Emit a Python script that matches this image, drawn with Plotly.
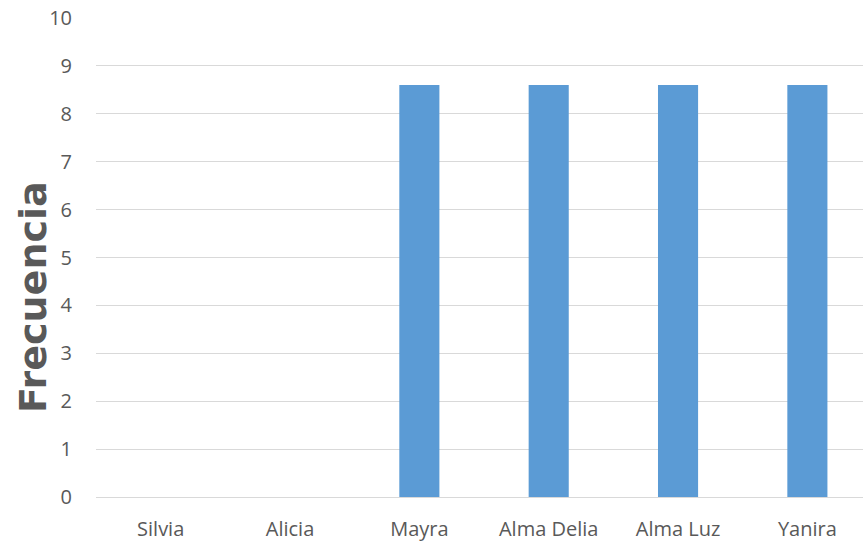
import plotly.graph_objects as go

categorias = ["Silvia", "Alicia", "Mayra", "Alma Delia", "Alma Luz", "Yanira"]
frecuencia = [0, 0, 8.6, 8.6, 8.6, 8.6]
y_ticks = list(range(0, 11))

fig = go.Figure(go.Bar(
    x=categorias, y=frecuencia, marker_color="#5b9bd5", width=0.31,
    marker_line_width=0,
))

fig.update_layout(
    width=863, height=542,
    margin=dict(l=96, r=0, t=18, b=45),
    paper_bgcolor="white", plot_bgcolor="white",
    showlegend=False,
    font=dict(family="Open Sans", color="#595959"),
    xaxis=dict(range=[-0.5, 5.43], showgrid=False, showline=False, zeroline=False,
               tickfont=dict(size=20, color="#595959"), ticks="", ticklabelstandoff=18),
    yaxis=dict(range=[0, 10], tickvals=y_ticks, showgrid=True, gridcolor="#d9d9d9",
               gridwidth=1, zeroline=True, zerolinecolor="#d9d9d9", zerolinewidth=1,
               tickfont=dict(size=20, color="#595959"), ticks="", ticklabelstandoff=23),
    annotations=[dict(text="<b>Frecuencia</b>", textangle=-90, xref="paper", yref="paper",
                      x=(33 - 96) / 767, y=(497 - 297) / 479, showarrow=False,
                      xanchor="center", yanchor="middle",
                      font=dict(size=38, color="#595959", family="DejaVu Sans"))],
)

fig.write_html("out.html")
